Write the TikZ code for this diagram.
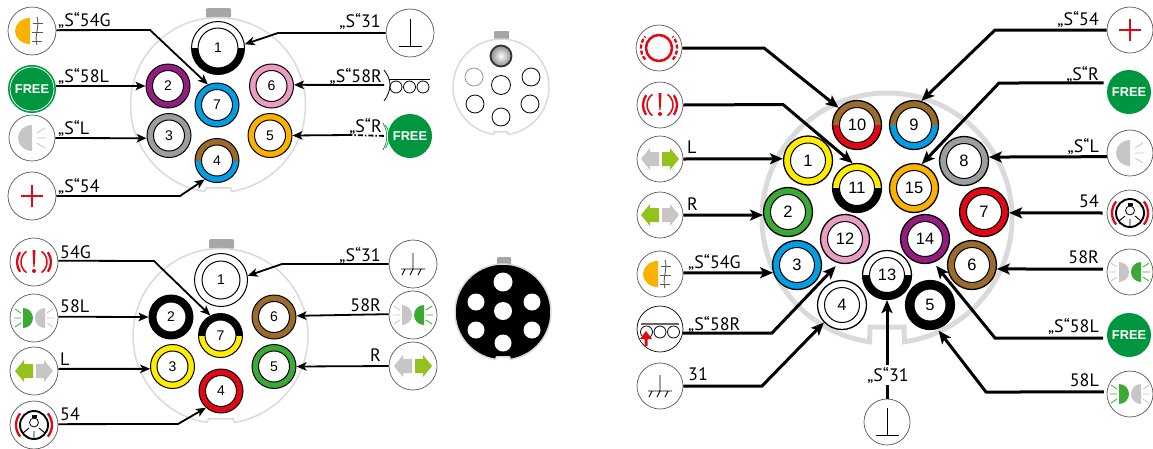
\documentclass[tikz,border=0pt]{standalone}
\usepackage{fontspec}
\setmainfont{PT Sans}
\newfontfamily\pinfamily{Liberation Sans}
\usepackage{xcolor}
\usepackage{tikz}
\usetikzlibrary{arrows.meta}
\definecolor{shellgrey}{HTML}{DADADA}
\definecolor{tabgrey}{HTML}{A6A6A6}
\definecolor{lampgrey}{HTML}{C6C6C6}
\definecolor{ringgrey}{HTML}{9D9D9D}
\definecolor{wirepurple}{HTML}{951B81}
\definecolor{wirepink}{HTML}{EA9CC3}
\definecolor{wireorange}{HTML}{F9B200}
\definecolor{wireblue}{HTML}{009FE3}
\definecolor{wirebrown}{HTML}{9C6A2A}
\definecolor{wiregreen}{HTML}{3AAA35}
\definecolor{wirered}{HTML}{E30613}
\definecolor{wireyellow}{HTML}{FFED00}
\definecolor{freegreen}{HTML}{009640}
\definecolor{arrowgreen}{HTML}{95C11F}
\newcommand{\labfont}{\fontsize{18}{19}\selectfont}
\newcommand{\smallnum}{\pinfamily\fontsize{14}{15}\selectfont}
\newcommand{\largenum}{\pinfamily\fontsize{16.5}{17}\selectfont}
\tikzset{
	pinring/.style n args={3}{circle,draw=black,line width=1pt,inner sep=0pt,
		path picture={
			\fill[#1] (path picture bounding box.north west) rectangle (path picture bounding box.east);
			\fill[#2] (path picture bounding box.south west) rectangle (path picture bounding box.east);
			\draw[black,fill=white,line width=1pt] (path picture bounding box.center) circle (#3pt);
		}},
	pinsmall/.style 2 args={pinring={#1}{#2}{15.5},minimum size=44pt,font=\smallnum},
	pinlarge/.style 2 args={pinring={#1}{#2}{17.5},minimum size=49pt,line width=1.3pt,font=\largenum},
	iconbox/.style={circle,draw=black!65,line width=.7pt,fill=white,minimum size=48pt,inner sep=0pt},
	iconboxr/.style={iconbox,minimum size=46pt},
	freebox/.style={circle,fill=freegreen,text=white,minimum size=44pt,inner sep=0pt,font=\pinfamily\bfseries\fontsize{12.8}{13}\selectfont},
	lableft/.style={anchor=base west,font=\labfont,inner sep=0pt},
	labright/.style={anchor=base east,font=\labfont,inner sep=0pt},
	thinline/.style={line width=1.8pt,-{Stealth[length=10pt,width=8.5pt,inset=2.5pt]}},
	wideline/.style={line width=3pt,-{Stealth[length=13pt,width=11pt,inset=3pt]}},
	shell/.style={draw=shellgrey,line width=1.5pt},
	pics/fogicon/.style={code={
		\fill[wireorange] (-2,-13) arc (270:90:15 and 13) -- cycle;
		\draw[black!65,line width=.9pt] (5,-14) .. controls (8,-5) and (2,5) .. (5,14);
		\draw[black!65,line width=.9pt] (1,-8) -- (11,-8) (0,1) -- (11,1) (0,10) -- (10,10);
	}},
	pics/lampicon/.style={code={
		\fill[lampgrey] (0,-13) arc (270:90:14 and 13) -- cycle;
		\draw[lampgrey,line width=.8pt] (5,-5) -- (13,-10) (5,0) -- (14,0) (5,5) -- (13,10);
	}},
	pics/plusicon/.style={code={
		\draw[wirered,line width=2.7pt] (-11,0) -- (11,0) (0,-11) -- (0,11);
	}},
	pics/teeicon/.style={code={
		\draw[black,line width=.9pt] (0,-14) -- (0,13) (-11.5,13) -- (11.5,13);
	}},
	pics/groundicon/.style={code={
		\draw[black,line width=.9pt] (0,-11) -- (0,5) (-12,5) -- (12,5)
			(-8,5) -- (-11,11) (0,5) -- (-3,11) (8,5) -- (5,11);
	}},
	pics/warnicon/.style={code={
		\fill[wirered] (-1.5,-12) -- (1.5,-12) -- (.6,5) -- (-.6,5) -- cycle;
		\fill[wirered] (0,9) circle (2);
		\draw[wirered,line width=1.5pt] (125:13) arc (125:235:13) (55:13) arc (55:-55:13);
		\draw[wirered,line width=2.3pt] (145:17) arc (145:215:17) (35:17) arc (35:-35:17);
	}},
	pics/ringicon/.style={code={
		\draw[wirered,line width=2.5pt] (0,0) circle (13);
		\draw[wirered,line width=2.3pt,dash pattern=on 4pt off 2pt] (140:18) arc (140:220:18) (40:18) arc (40:-40:18);
	}},
	pics/bulbicon/.style={code={
		\draw[black,line width=1.9pt] (0,0) circle (14);
		\draw[black,line width=.8pt] (0,-2.5) circle (4.5);
		\fill[black] (-2.5,-10) rectangle (2.5,-7);
		\draw[black,line width=.9pt] (0,6) -- (0,13) (-5,3) -- (-11,8) (5,3) -- (11,8);
		\draw[wirered,line width=2.3pt] (140:18) arc (140:220:18) (40:18) arc (40:-40:18);
	}},
	pics/arrowicon/.style 2 args={code={
		\fill[#1] (-1,-7) -- (-10,-7) -- (-10,-11) -- (-19,0) -- (-10,11) -- (-10,7) -- (-1,7) -- cycle;
		\fill[#2] (2,-7) -- (10,-7) -- (10,-11) -- (19,0) -- (10,11) -- (10,7) -- (2,7) -- cycle;
	}},
	pics/beamicon/.style 2 args={code={
		\fill[#1] (-11,-10) arc (270:450:10) -- cycle;
		\draw[#1,line width=.8pt] (-13,-5) -- (-19,-9) (-13,0) -- (-20,0) (-13,5) -- (-19,9);
		\fill[#2] (11,-10) arc (270:90:10) -- cycle;
		\draw[#2,line width=.8pt] (13,-5) -- (19,-9) (13,0) -- (20,0) (13,5) -- (19,9);
	}},
	pics/rollers/.style={code={
		\draw[black,line width=.8pt] (0,0) circle (6) (13.5,0) circle (6) (27,0) circle (6);
	}}
}
\begin{document}
\begin{tikzpicture}[x=1pt,y=-1pt]
	\useasboundingbox (0,0) rectangle (1153,448);

	\fill[tabgrey,rounded corners=2pt] (206,18) -- (206,8) -- (231,8) -- (231,18) -- cycle;
	\draw[shell] (218,105) ++(99:87.5) arc (99:441:87.5) -- ++(-1,-3.5) -- ++(-24.5,0) -- cycle;
	\draw (218,48) node[pinring={white}{black}{20},minimum size=53pt,font=\smallnum] (pa1) {1};
	\draw (168,86) node[pinsmall={wirepurple}{wirepurple}] (pa2) {2};
	\draw (169,135.5) node[pinsmall={ringgrey}{ringgrey}] (pa3) {3};
	\draw (217,160.5) node[pinsmall={wirebrown}{wireblue}] (pa4) {4};
	\draw (270,135.5) node[pinsmall={wireorange}{wireorange}] (pa5) {5};
	\draw (271.5,86) node[pinsmall={wirepink}{wirepink}] (pa6) {6};
	\draw (217,105) node[pinsmall={wireblue}{wireblue}] (pa7) {7};

	\draw (32,31) node[iconbox] (fogA) {} pic {fogicon};
	\draw (32,89) node[freebox,minimum size=48pt] (freeA) {FREE};
	\draw[white,line width=.7pt] (freeA) circle (22);
	\draw (32,138) node[iconbox,minimum size=46pt] (lampA) {} pic {lampicon};
	\draw (32,196) node[iconbox] (plusA) {} pic {plusicon};
	\draw (410,33) node[iconbox] (teeA) {} pic {teeicon};
	\coordinate (rollerA) at (384,85);
	\draw[black,line width=.8pt] (384,70) .. controls (392,80) and (392,90) .. (384,101);
	\draw[black,line width=.8pt] (389,79) -- (430,79);
	\draw (396,87) pic {rollers};
	\draw[freegreen,line width=.7pt] (383,123) .. controls (388,132) and (388,141) .. (383,150)
		(385.5,125) .. controls (390,132) and (390,141) .. (385.5,148);
	\draw (410,136) node[freebox] (freeB) {FREE};
	\coordinate (elbowA) at (150,30);
	\coordinate (elbowB) at (180,196);
	\coordinate (elbowC) at (278,33);
	\coordinate (elbowD) at (349,135);
	\draw[thinline] (fogA.2) -- (elbowA) -- (pa7.114);
	\draw[thinline] (freeA.7) -- (pa2.180);
	\draw[thinline] (lampA.0) -- (pa3.187);
	\draw[thinline] (plusA.0) -- (elbowB) -- (pa4.237);
	\draw[thinline] (teeA.180) -- (elbowC) -- (pa1.8);
	\draw[thinline] (rollerA) -- (pa6.3);
	\draw[line width=1.8pt,shorten <=4pt,dash pattern=on 5pt off 2pt on 1.5pt off 2pt] (freeB.180) -- (elbowD);
	\draw[thinline] (elbowD) -- (pa5.0);
	\draw (58,26.5) node[lableft] (ta1) {„S“54G};
	\draw (58,82.5) node[lableft] (ta2) {„S“58L};
	\draw (58,134.5) node[lableft] (ta3) {„S“L};
	\draw (58,192.5) node[lableft] (ta4) {„S“54};
	\draw (381,27) node[labright] (ta5) {„S“31};
	\draw (382,82) node[labright] (ta6) {„S“58R};
	\draw (382,132) node[labright] (ta7) {„S“R};

	\fill[tabgrey,rounded corners=1pt] (494,39) -- (494,31) -- (509,31) -- (509,39) -- cycle;
	\draw[shell,fill=white] (501,87) ++(99:48) arc (99:441:48) -- ++(-1,-2.5) -- ++(-13,0) -- cycle;
	\draw[black!80,line width=1.8pt,inner color=white,outer color=black!45] (501,56) circle (10.5);
	\draw[black!45,line width=.7pt] (474,77) circle (9);
	\draw[black,line width=.8pt] (501,85) circle (9.5) (531,77) circle (9) (475,104) circle (9)
		(530,104) circle (9) (501,117) circle (9);

	\fill[tabgrey,rounded corners=2pt] (209,249) -- (209,239) -- (234,239) -- (234,249) -- cycle;
	\draw[shell] (220.5,336) ++(99:87.5) arc (99:441:87.5) -- ++(-1,-3.5) -- ++(-24.5,0) -- cycle;
	\draw (221,280) node[pinring={white}{white}{19},minimum size=53pt,font=\smallnum] (pb1) {1};
	\draw (171,317) node[pinring={black}{black}{15},minimum size=44pt,font=\smallnum] (pb2) {2};
	\draw (172.5,366.5) node[pinsmall={wireyellow}{wireyellow}] (pb3) {3};
	\draw (221,391) node[pinsmall={wirered}{wirered}] (pb4) {4};
	\draw (274,366.5) node[pinsmall={wiregreen}{wiregreen}] (pb5) {5};
	\draw (274,317) node[pinsmall={wirebrown}{wirebrown}] (pb6) {6};
	\draw (220.5,335.5) node[pinsmall={black}{wireyellow}] (pb7) {7};

	\draw (34,262) node[iconbox] (warnA) {} pic {warnicon};
	\draw (34,318) node[iconbox] (beamA) {} pic {beamicon={wiregreen}{lampgrey}};
	\draw (34,371) node[iconbox] (arrowA) {} pic {arrowicon={arrowgreen}{lampgrey}};
	\draw (34,425) node[iconbox] (bulbA) {} pic {bulbicon};
	\draw (413,264) node[iconbox] (groundA) {} pic {groundicon};
	\draw (413,315) node[iconbox] (beamB) {} pic {beamicon={lampgrey}{wiregreen}};
	\draw (413,366) node[iconbox] (arrowB) {} pic {arrowicon={lampgrey}{arrowgreen}};
	\coordinate (elbowE) at (154,261);
	\coordinate (elbowF) at (178,424);
	\coordinate (elbowG) at (282,264);
	\draw[thinline] (warnA.3) -- (elbowE) -- (pb7.117);
	\draw[thinline] (beamA.3) -- (pb2.180);
	\draw[thinline] (arrowA.5) -- (pb3.186);
	\draw[thinline] (bulbA.2) -- (elbowF) -- (pb4.228);
	\draw[thinline] (groundA.180) -- (elbowG) -- (pb1.9);
	\draw[thinline] (beamB.178) -- (pb6.3);
	\draw[thinline] (arrowB.180) -- (pb5.0);
	\draw (60,258) node[lableft] (tb1) {54G};
	\draw (60,312) node[lableft] (tb2) {58L};
	\draw (60,365) node[lableft] (tb3) {L};
	\draw (60,420) node[lableft] (tb4) {54};
	\draw (381,261) node[labright] (tb5) {„S“31};
	\draw (381,311) node[labright] (tb6) {58R};
	\draw (381,361) node[labright] (tb7) {R};

	\fill[tabgrey,rounded corners=1pt] (497,265) -- (497,257) -- (511,257) -- (511,265) -- cycle;
	\draw[shell,fill=black] (503,312) ++(99:48) arc (99:441:48) -- ++(-1,-2.5) -- ++(-13,0) -- cycle;
	\fill[white] (503,282) circle (9.5) (476,302) circle (8.5) (503,311) circle (9) (532,302) circle (8.5)
		(476,330) circle (8.5) (532,330) circle (8.5) (503,343) circle (8.5);

	\draw[draw=shellgrey,line width=5pt] (887,218) ++(98:125) arc (98:442:125) -- (904,327) -- (870,327) -- cycle;
	\draw (857,125) node[pinlarge={wirebrown}{wirered}] (pc10) {10};
	\draw (914,125) node[pinlarge={wirebrown}{wireblue}] (pc9) {9};
	\draw (808,160.5) node[pinlarge={wireyellow}{wireyellow}] (pc1) {1};
	\draw (857,188) node[pinlarge={wireyellow}{black}] (pc11) {11};
	\draw (914,188) node[pinlarge={wireorange}{wireorange}] (pc15) {15};
	\draw (964,161) node[pinlarge={ringgrey}{ringgrey}] (pc8) {8};
	\draw (788,212) node[pinlarge={wiregreen}{wiregreen}] (pc2) {2};
	\draw (984,212) node[pinlarge={wirered}{wirered}] (pc7) {7};
	\draw (845,239) node[pinlarge={wirepink}{wirepink}] (pc12) {12};
	\draw (925,239) node[pinlarge={wirepurple}{wirepurple}] (pc14) {14};
	\draw (797,265) node[pinlarge={wireblue}{wireblue}] (pc3) {3};
	\draw (972,265) node[pinlarge={wirebrown}{wirebrown}] (pc6) {6};
	\draw (887,275) node[pinlarge={white}{black}] (pc13) {13};
	\draw (842,305) node[pinlarge={white}{white}] (pc4) {4};
	\draw (930,305) node[pinring={black}{black}{16},minimum size=49pt,line width=1.3pt,font=\largenum] (pc5) {5};

	\draw (659,48) node[iconboxr] (ringC) {} pic {ringicon};
	\draw (660,105) node[iconboxr] (warnC) {} pic {warnicon};
	\draw (660,159) node[iconboxr] (arrowC) {} pic {arrowicon={lampgrey}{arrowgreen}};
	\draw (660,215) node[iconboxr] (arrowD) {} pic {arrowicon={arrowgreen}{lampgrey}};
	\draw (660,274) node[iconboxr] (fogC) {} pic {fogicon};
	\draw (660,329) node[iconboxr,draw=black] (rollerC) {};
	\draw[black!60,line width=1.2pt] (641,324) -- (679,324);
	\draw (646.5,332) pic {rollers};
	\fill[wirered] (644.5,346) -- (644.5,339) -- (640,339) -- (646,331) -- (652,339) -- (647.5,339) -- (647.5,346) -- cycle;
	\draw (660,386) node[iconboxr] (groundC) {} pic {groundicon};
	\draw (887,422) node[iconboxr] (teeC) {} pic {teeicon};
	\draw (1130,30) node[iconboxr] (plusC) {} pic {plusicon};
	\draw (1129,92) node[freebox] (freeC) {FREE};
	\draw (1130,153) node[iconboxr] (lampC) {} pic {lampicon};
	\draw (1130,213) node[iconboxr] (bulbC) {} pic {bulbicon};
	\draw (1130,272) node[iconboxr] (beamC) {} pic {beamicon={lampgrey}{wiregreen}};
	\draw (1129,335) node[freebox] (freeD) {FREE};
	\draw (1130,394) node[iconboxr] (beamD) {} pic {beamicon={wiregreen}{lampgrey}};
	\coordinate (elbowH) at (764,48);
	\coordinate (elbowI) at (783,104.5);
	\coordinate (elbowJ) at (772,333);
	\coordinate (elbowK) at (762,386);
	\coordinate (elbowL) at (995,30);
	\coordinate (elbowM) at (999,83);
	\coordinate (elbowN) at (995,338);
	\coordinate (elbowO) at (986,392);
	\draw[wideline] (ringC.0) -- (elbowH) -- (pc10.137);
	\draw[wideline] (warnC.0) -- (elbowI) -- (pc11.100);
	\draw[wideline] (arrowC.0) -- (pc1.176);
	\draw[wideline] (arrowD.0) -- (pc2.187);
	\draw[wideline] (fogC.3) -- (pc3.198);
	\draw[wideline,shorten >=4pt] (rollerC.-10) -- (elbowJ) -- (pc12.255);
	\draw[wideline] (groundC.0) -- (elbowK) -- (pc4.224);
	\draw[wideline] (teeC.north) -- (pc13.south);
	\draw[wideline] (plusC.180) -- (elbowL) -- (pc9.73);
	\draw[wideline,shorten <=5pt] (freeC.156) -- (elbowM) -- (pc15.72);
	\draw[wideline] (lampC.189) -- (pc8.9);
	\draw[wideline,shorten <=4pt] (bulbC.180) -- (pc7.-2);
	\draw[wideline,shorten <=4pt] (beamC.173) -- (pc6.-9);
	\draw[wideline,shorten <=4pt,shorten >=4pt] (freeD.188) -- (elbowN) -- (pc14.-70);
	\draw[wideline,shorten <=3pt,shorten >=2pt] (beamD.175) -- (elbowO) -- (pc5.-73);
	\draw (687,153) node[lableft] (tc1) {L};
	\draw (687,210) node[lableft] (tc2) {R};
	\draw (688,268) node[lableft] (tc3) {„S“54G};
	\draw (688,330) node[lableft] (tc4) {„S“58R};
	\draw (688,380) node[lableft] (tc5) {31};
	\draw (1099,25) node[labright] (tc6) {„S“54};
	\draw (1099,80) node[labright] (tc7) {„S“R};
	\draw (1099,152) node[labright] (tc8) {„S“L};
	\draw (1099,207) node[labright] (tc9) {54};
	\draw (1099,263) node[labright] (tc10) {58R};
	\draw (1099,332) node[labright] (tc11) {„S“58L};
	\draw (1099,386) node[labright] (tc12) {58L};
	\draw (888,381) node[anchor=base,font=\labfont,fill=white,inner sep=2pt] (tc13) {„S“31};
\end{tikzpicture}
\end{document}
